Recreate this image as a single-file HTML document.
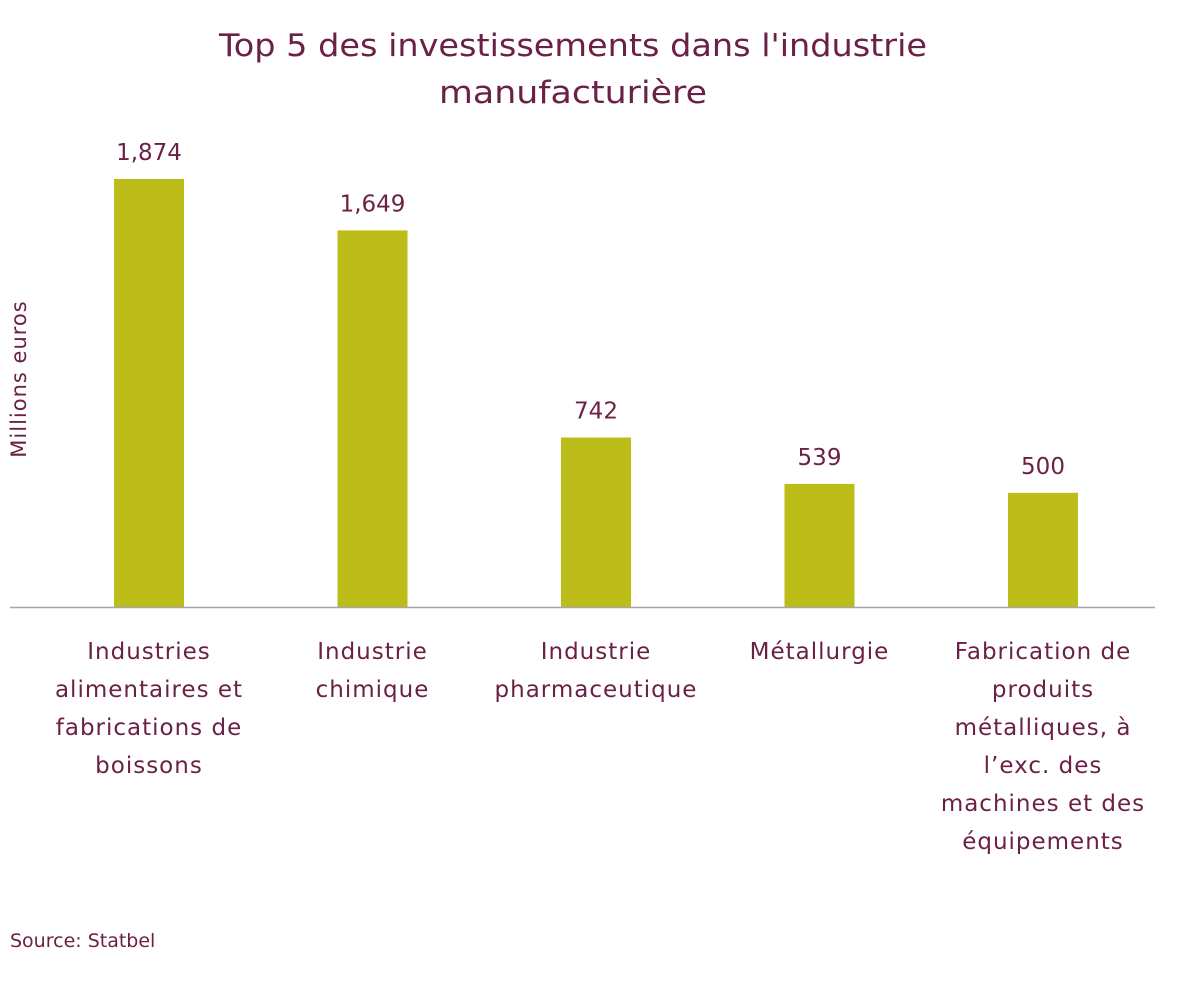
<!DOCTYPE html>
<html><head><meta charset="utf-8"><style>
body{margin:0;background:#fff;width:1190px;height:985px;overflow:hidden}
svg text{font-family:"DejaVu Sans","Liberation Sans",sans-serif;fill:#6b2146}
</style></head><body>
<svg id="chart" width="1190" height="985">
<text x="573" y="56" font-size="31" text-anchor="middle" textLength="708" lengthAdjust="spacingAndGlyphs">Top 5 des investissements dans l'industrie</text>
<text x="573" y="103" font-size="31" text-anchor="middle" textLength="268" lengthAdjust="spacingAndGlyphs">manufacturière</text>
<text transform="translate(26,379) rotate(-90)" font-size="21" letter-spacing="1" text-anchor="middle">Millions euros</text>
<g id="bars"></g>
<line x1="10" y1="607.5" x2="1155" y2="607.5" stroke="#a6a6a6" stroke-width="1.5"/>
<g id="labels"></g>
<text x="10" y="947" font-size="19">Source: Statbel</text>
</svg>
<script>
const categories=[["Industries","alimentaires et","fabrications de","boissons"],["Industrie","chimique"],["Industrie","pharmaceutique"],["Métallurgie"],["Fabrication de","produits","métalliques, à","l’exc. des","machines et des","équipements"]];
const values=[1874,1649,742,539,500];
const valueLabels=["1,874","1,649","742","539","500"];
const ns="http://www.w3.org/2000/svg";
const baseY=607,scale=428/1874;
const y=v=>baseY-v*scale;
const xc=i=>149+i*223.5;
const bars=document.getElementById('bars'),labels=document.getElementById('labels');
values.forEach((v,i)=>{
 const r=document.createElementNS(ns,'rect');
 r.setAttribute('x',xc(i)-35);r.setAttribute('y',y(v));r.setAttribute('width',70);r.setAttribute('height',baseY-y(v));r.setAttribute('fill','#bcbd19');
 
 
 bars.appendChild(r);
 const t=document.createElementNS(ns,'text');
 t.setAttribute('x',xc(i));t.setAttribute('y',y(v)-19);t.setAttribute('font-size','23');t.setAttribute('text-anchor','middle');
 t.textContent=valueLabels[i];
 
 
 labels.appendChild(t);
 categories[i].forEach((line,j)=>{
  const c=document.createElementNS(ns,'text');
  c.setAttribute('x',xc(i));c.setAttribute('y',659+j*38);c.setAttribute('font-size','23');c.setAttribute('letter-spacing','1');c.setAttribute('text-anchor','middle');
  c.textContent=line;
  
  
  labels.appendChild(c);
 });
});
</script>
</body></html>
